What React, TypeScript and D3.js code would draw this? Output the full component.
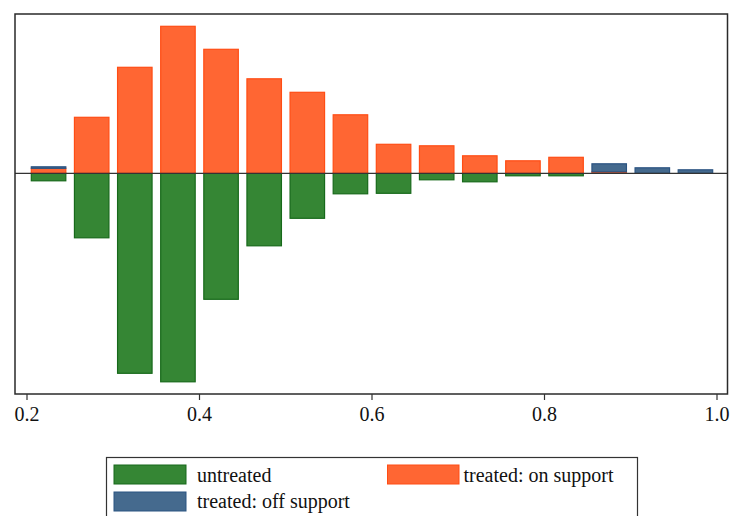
import { scaleLinear } from "d3"

// bin midpoints of the propensity score histogram (width 0.05)
const binMids = [0.225, 0.275, 0.325, 0.375, 0.425, 0.475, 0.525, 0.575, 0.625, 0.675, 0.725, 0.775, 0.825, 0.875, 0.925, 0.975]
const untreated = [0.15, 1.29, 4.0, 4.17, 2.52, 1.45, 0.9, 0.41, 0.4, 0.13, 0.17, 0.05, 0.05, 0, 0, 0]
const treatedOn = [0.1, 1.12, 2.12, 2.94, 2.48, 1.89, 1.62, 1.17, 0.58, 0.55, 0.35, 0.25, 0.32, 0.03, 0, 0]
const treatedOff = [0.03, 0, 0, 0, 0, 0, 0, 0, 0, 0, 0, 0, 0, 0.16, 0.11, 0.07]
const xTicks = [0.2, 0.4, 0.6, 0.8, 1.0]
const legendItems = [
  { label: "untreated", fill: "#358634", stroke: "#17691a" },
  { label: "treated: on support", fill: "#ff6633", stroke: "#ff4d14" },
  { label: "treated: off support", fill: "#456a8e", stroke: "#2b5482" },
]

const W = 734, H = 516
const PL = 15, PT = 14, PR = 727.5, PB = 394
const FONT = "'Liberation Serif', 'Times New Roman', serif"

export default function App() {
  const x = scaleLinear().domain([0.2, 1.0]).range([27, 717])
  const y = scaleLinear().domain([-4.414, 3.186]).range([PB, PT])
  const bw = x(0.24) - x(0.2)
  const [green, orange, blue] = legendItems

  return (
    <svg width={W} height={H} style={{ position: "absolute", left: 0, top: 0, background: "#fff", overflow: "hidden" }}
      fontFamily={FONT}>
      <rect x={0} y={0} width={W} height={H} fill="#fff" />

      {/* untreated below zero */}
      {binMids.map((m, i) => untreated[i] > 0 && (
        <rect key={"u" + i} x={x(m) - bw / 2} y={y(0)} width={bw} height={y(-untreated[i]) - y(0)}
          fill={green.fill} stroke={green.stroke} strokeWidth={1.2} />
      ))}

      {/* treated on support above zero */}
      {binMids.map((m, i) => treatedOn[i] > 0 && (
        <rect key={"o" + i} x={x(m) - bw / 2} y={y(treatedOn[i])} width={bw} height={y(0) - y(treatedOn[i])}
          fill={orange.fill} stroke={orange.stroke} strokeWidth={1.2} />
      ))}

      {/* treated off support stacked on top */}
      {binMids.map((m, i) => treatedOff[i] > 0 && (
        <rect key={"f" + i} x={x(m) - bw / 2} y={y(treatedOn[i] + treatedOff[i])} width={bw}
          height={y(treatedOn[i]) - y(treatedOn[i] + treatedOff[i])}
          fill={blue.fill} stroke={blue.stroke} strokeWidth={1.2} />
      ))}

      {/* zero line */}
      <line x1={PL} x2={PR} y1={y(0)} y2={y(0)} stroke="#333" strokeWidth={1.3} />

      {/* frame */}
      <rect x={PL} y={PT} width={PR - PL} height={PB - PT} fill="none" stroke="#2a2a2a" strokeWidth={1.5} />

      {/* x axis */}
      {xTicks.map(t => (
        <g key={t} transform={`translate(${x(t)},${PB})`}>
          <line y1={0} y2={6} stroke="#333" strokeWidth={1.2} />
          <text y={27} textAnchor="middle" fontSize={20} fill="#111">{t.toFixed(1)}</text>
        </g>
      ))}

      {/* legend */}
      <rect x={106.5} y={457.5} width={531} height={70} fill="#fff" stroke="#333" strokeWidth={1.2} />
      <rect x={114} y={465} width={72} height={19} fill={green.fill} stroke={green.stroke} strokeWidth={1} />
      <text x={197} y={482} fontSize={20} fill="#111">{green.label}</text>
      <rect x={387.5} y={465} width={71.5} height={19} fill={orange.fill} stroke={orange.stroke} strokeWidth={1} />
      <text x={463.5} y={482} fontSize={20} fill="#111">{orange.label}</text>
      <rect x={114} y={492} width={72} height={19} fill={blue.fill} stroke={blue.stroke} strokeWidth={1} />
      <text x={197} y={508} fontSize={20} fill="#111">{blue.label}</text>
    </svg>
  )
}
